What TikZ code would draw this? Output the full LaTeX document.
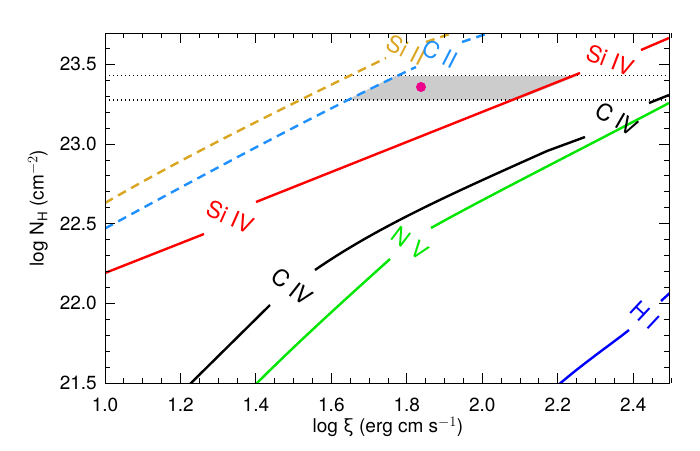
\documentclass[tikz,border=0pt]{standalone}
\usepackage{fontspec}
\setmainfont{TeX Gyre Heros}
\begin{document}
\begin{tikzpicture}[x=1pt,y=-1pt,
  curve/.style={line width=2.4pt},
  dsh/.style={curve,dash pattern=on 9pt off 6pt},
  lab/.style={font=\fontsize{23}{23}\selectfont,inner sep=0pt},
  tick/.style={font=\fontsize{19}{19}\selectfont,inner sep=0pt}]
\useasboundingbox (0,0) rectangle (700,450);
\definecolor{siii}{RGB}{218,165,32}
\definecolor{cii}{RGB}{30,144,255}
\definecolor{nv}{RGB}{0,230,0}
% gray region
\fill[gray!40] (347,100) .. controls (365,91) and (380,83) .. (395,76) -- (577,76) -- (517,100) -- cycle;
\draw[line width=1.3pt,dash pattern=on 1.3pt off 2.7pt] (105,75.7) -- (669,75.7);
\draw[line width=1.3pt,dash pattern=on 1.3pt off 2.7pt] (105,100) -- (669,100);
\begin{scope}
\clip (105,33) rectangle (669,383);
% Si II
\draw[dsh,siii] (105,203) .. controls (200,148) and (300,100) .. (386,58);
\draw[dsh,siii] (426,42) -- (470,27);
% C II
\draw[dsh,cii] (105,228.5) .. controls (220,166) and (320,112) .. (416,67);
\draw[dsh,cii] (462,42) -- (510,26);
% Si IV
\draw[curve,red] (105,273) -- (204,234);
\draw[curve,red] (256,202) -- (580,73);
\draw[curve,red] (641,50) -- (669,38);
% C IV
\draw[curve,black] (188,386) -- (270,305);
\draw[curve,black] (315,270) .. controls (380,225) and (460,190) .. (547,151) -- (585,137);
\draw[curve,black] (649,103) -- (669,95);
% N V
\draw[curve,nv] (254,386) .. controls (300,340) and (350,295) .. (390,259);
\draw[curve,nv] (431,228) .. controls (490,195) and (580,150) .. (669,103);
% H I
\draw[curve,blue] (557,386) .. controls (585,362) and (610,345) .. (629,330);
\draw[curve,blue] (661,301) -- (672,291);
\end{scope}
\fill[magenta] (421,87) circle (5);
% labels
\node[lab,siii,rotate=-27] (lsiii) at (406,50) {Si II};
\node[lab,cii,rotate=-27] (lcii) at (440,54) {C II};
\node[lab,red,rotate=-24] (lsiv1) at (230,217) {Si IV};
\node[lab,red,rotate=-21] (lsiv2) at (610,60) {Si IV};
\node[lab,black,rotate=-38] (lciv1) at (292,287) {C IV};
\node[lab,black,rotate=-30] (lciv2) at (617,119) {C IV};
\node[lab,nv,rotate=-37] (lnv) at (410,243) {N V};
\node[lab,blue,rotate=-43] (lhi) at (645,315) {H I};
% frame
\draw[line width=1pt] (105,33) rectangle (669,383);
\foreach \i in {0,...,30}{
  \pgfmathsetmacro\xx{105+\i*18.865}
  \pgfmathsetmacro\ll{ifthenelse(mod(\i,4)==0,10,5)}
  \draw[line width=0.9pt] (\xx,383) -- ++(0,-\ll);
  \draw[line width=0.9pt] (\xx,33) -- ++(0,\ll);
}
\foreach \i in {0,...,21}{
  \pgfmathsetmacro\yy{383-\i*15.93}
  \pgfmathsetmacro\ll{ifthenelse(mod(\i,5)==0,10,5)}
  \draw[line width=0.9pt] (105,\yy) -- ++(\ll,0);
  \draw[line width=0.9pt] (669,\yy) -- ++(-\ll,0);
}
\foreach \v/\t in {0/1.0,1/1.2,2/1.4,3/1.6,4/1.8,5/2.0,6/2.2,7/2.4}
  \node[tick] (xt\v) at (105+\v*75.46,405) {\t};
\foreach \v/\t in {0/21.5,1/22.0,2/22.5,3/23.0,4/23.5}
  \node[tick,anchor=east] (yt\v) at (97,383-\v*79.65) {\t};
\node[tick] (xlab) at (388,427) {log ξ (erg cm s$^{-1}$)};
\node[tick,rotate=90] (ylab) at (38,208) {log N$_{\mathrm{H}}$ (cm$^{-2}$)};
\end{tikzpicture}
\end{document}
